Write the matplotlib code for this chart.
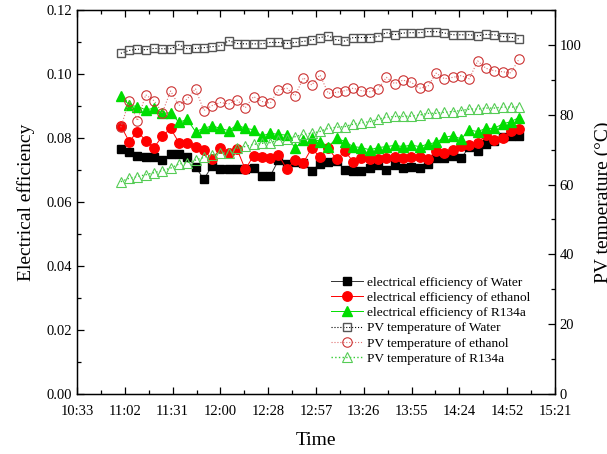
import matplotlib
matplotlib.use('Agg')
import matplotlib.pyplot as plt
from matplotlib.ticker import MultipleLocator, FixedLocator
import pandas as pd
import numpy as np

plt.rcParams['font.family'] = ['Liberation Serif', 'DejaVu Serif']

# sample times, every 5 min from 11:00 to 15:00
times = pd.date_range('2020-01-01 11:00', '2020-01-01 15:00', freq='5min')
x = np.array([(t.hour * 60 + t.minute) / 1440.0 for t in times])

eff_water = [0.0766, 0.0755, 0.0744, 0.0741, 0.0740, 0.0731, 0.0750, 0.0749, 0.0742, 0.0710,
             0.0671, 0.0713, 0.0702, 0.0704, 0.0704, 0.0704, 0.0705, 0.0680, 0.0681, 0.0731,
             0.0719, 0.0725, 0.0723, 0.0698, 0.0719, 0.0726, 0.0729, 0.0700, 0.0697, 0.0697,
             0.0705, 0.0716, 0.0700, 0.0715, 0.0705, 0.0710, 0.0707, 0.0719, 0.0736, 0.0736,
             0.0744, 0.0736, 0.0773, 0.0760, 0.0781, 0.0792, 0.0802, 0.0807, 0.0807]
eff_ethanol = [0.0838, 0.0789, 0.0820, 0.0792, 0.0770, 0.0806, 0.0830, 0.0785, 0.0785, 0.0773,
               0.0763, 0.0733, 0.0768, 0.0752, 0.0765, 0.0702, 0.0745, 0.0742, 0.0739, 0.0747,
               0.0703, 0.0731, 0.0723, 0.0768, 0.0740, 0.0768, 0.0733, 0.0759, 0.0726, 0.0739,
               0.0733, 0.0733, 0.0739, 0.0742, 0.0736, 0.0740, 0.0740, 0.0733, 0.0760, 0.0754,
               0.0763, 0.0775, 0.0778, 0.0785, 0.0809, 0.0794, 0.0799, 0.0823, 0.0827]
eff_r134a = [0.0931, 0.0903, 0.0898, 0.0888, 0.0893, 0.0877, 0.0879, 0.0849, 0.0858, 0.0820,
             0.0830, 0.0838, 0.0830, 0.0823, 0.0841, 0.0830, 0.0826, 0.0806, 0.0815, 0.0811,
             0.0809, 0.0768, 0.0794, 0.0799, 0.0789, 0.0773, 0.0799, 0.0789, 0.0773, 0.0770,
             0.0763, 0.0770, 0.0773, 0.0777, 0.0773, 0.0778, 0.0773, 0.0781, 0.0786, 0.0802,
             0.0807, 0.0797, 0.0825, 0.0820, 0.0830, 0.0830, 0.0844, 0.0851, 0.0864]
temp_water = [97.6, 98.4, 98.8, 98.6, 99.0, 98.9, 98.9, 100.0, 98.9, 99.0,
              99.2, 99.5, 99.7, 101.2, 100.4, 100.3, 100.3, 100.3, 100.7, 100.7,
              100.4, 100.7, 101.0, 101.4, 102.1, 102.6, 101.4, 101.1, 102.1, 102.1,
              102.1, 102.4, 103.5, 102.9, 103.4, 103.5, 103.5, 103.8, 103.8, 103.4,
              102.9, 102.9, 102.9, 102.6, 103.0, 102.9, 102.4, 102.2, 101.7]
temp_ethanol = [76.4, 84.0, 78.3, 85.7, 84.0, 80.6, 86.8, 82.6, 84.5, 87.4,
                81.2, 82.6, 83.5, 83.1, 84.2, 82.0, 85.2, 83.8, 83.3, 87.1,
                87.6, 85.4, 90.6, 88.5, 91.4, 86.1, 86.4, 86.9, 87.6, 86.9,
                86.6, 87.3, 90.7, 88.9, 89.9, 89.3, 87.6, 88.1, 91.9, 90.3,
                90.7, 91.2, 90.3, 95.4, 93.3, 92.6, 92.3, 92.0, 96.0]
temp_r134a = [60.8, 61.8, 62.3, 62.8, 63.4, 64.0, 64.7, 65.9, 66.3, 67.0,
              67.8, 68.5, 69.0, 69.1, 70.4, 70.9, 71.5, 71.8, 72.0, 72.8,
              73.1, 73.7, 74.4, 74.7, 75.2, 76.1, 76.4, 76.6, 77.3, 77.7,
              78.0, 78.7, 79.3, 79.5, 79.5, 79.6, 79.9, 80.4, 80.4, 80.7,
              80.9, 81.2, 81.6, 81.6, 81.9, 81.9, 82.2, 82.2, 82.2]

tick_pos = [0.44, 0.46, 0.48, 0.50, 0.52, 0.54, 0.56, 0.58, 0.60, 0.62, 0.64]
tick_labels = ['10:33', '11:02', '11:31', '12:00', '12:28', '12:57',
               '13:26', '13:55', '14:24', '14:52', '15:21']

fig = plt.figure(figsize=(6.07, 4.54), dpi=100)
ax = fig.add_axes([0.1269, 0.1322, 0.7874, 0.8458])
ax2 = ax.twinx()

h1, = ax.plot(x, eff_water, '-', color='#333333', lw=0.7, marker='s', ms=5.2,
              mfc='black', mec='black', label='electrical efficiency of Water')
h2, = ax.plot(x, eff_ethanol, '-', color='red', lw=0.7, marker='o', ms=6.8,
              mfc='red', mec='red', label='electrical efficiency of ethanol')
h3, = ax.plot(x, eff_r134a, '-', color='#00dd00', lw=0.7, marker='^', ms=6.8,
              mfc='#00dd00', mec='#00dd00', label='electrical efficiency of R134a')

h4, = ax2.plot(x, temp_water, ':', color='black', lw=0.8, marker='s', ms=5.8,
               mfc='none', mec='#555555', mew=1.0, label='PV temperature of Water')
h5, = ax2.plot(x, temp_ethanol, ':', color='#e07070', lw=0.8, marker='o', ms=6.8,
               mfc='none', mec='#cc3333', mew=0.8, label='PV temperature of ethanol')
h6, = ax2.plot(x, temp_r134a, ':', color='#33cc33', lw=1.0, marker='^', ms=6.8,
               mfc='none', mec='#55cc55', mew=0.8, label='PV temperature of R134a')

ax.set_xlim(0.44, 0.64)
ax.set_ylim(0, 0.12)
ax2.set_ylim(0, 110)

ax.xaxis.set_major_locator(FixedLocator(tick_pos))
ax.set_xticklabels(tick_labels)
ax.xaxis.set_minor_locator(MultipleLocator(0.01))
ax.yaxis.set_major_locator(MultipleLocator(0.02))
ax.yaxis.set_minor_locator(MultipleLocator(0.01))
ax.yaxis.set_major_formatter(matplotlib.ticker.FormatStrFormatter('%.2f'))
ax2.yaxis.set_major_locator(MultipleLocator(20))
ax2.yaxis.set_minor_locator(MultipleLocator(10))

ax.tick_params(axis='both', which='both', direction='in', labelsize=10.5, top=True)
ax.tick_params(axis='y', which='both', right=False)
ax.tick_params(which='major', length=5, width=0.9)
ax.tick_params(which='minor', length=3, width=0.9)
ax.tick_params(axis='x', which='major', pad=8)
ax2.tick_params(axis='y', which='both', direction='in', labelsize=10.5)
ax2.tick_params(which='major', length=5, width=0.9)
ax2.tick_params(which='minor', length=3, width=0.9)
for sp in ax.spines.values():
    sp.set_linewidth(1.0)

ax.set_xlabel('Time', fontsize=14, labelpad=10)
ax.set_ylabel('Electrical efficiency', fontsize=14, labelpad=8)
ax2.set_ylabel('PV temperature (\u00b0C)', fontsize=14, labelpad=9)

ax.legend(handles=[h1, h2, h3, h4, h5, h6], loc='lower right', bbox_to_anchor=(0.96, 0.062),
          frameon=False, fontsize=9.6, handlelength=2.4, handletextpad=0.3,
          labelspacing=0.22, borderaxespad=0.0)

fig.savefig('out.png', dpi=100)
